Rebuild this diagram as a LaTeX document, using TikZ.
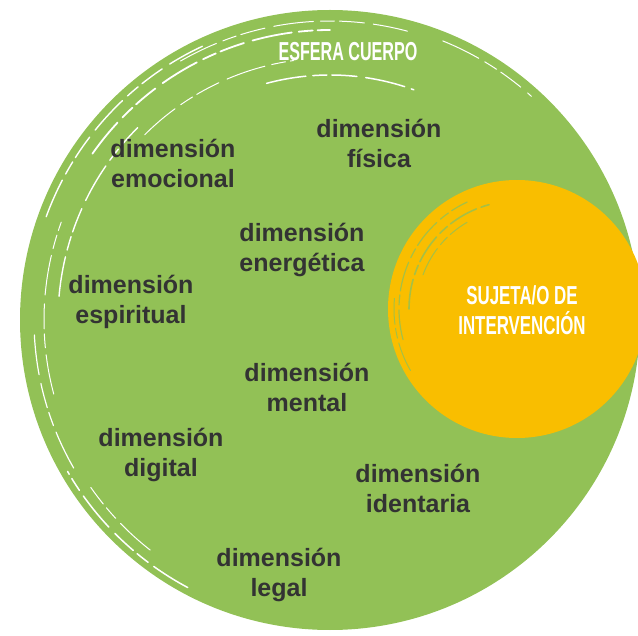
\documentclass[tikz,border=0pt]{standalone}
\usepackage{fontspec}
\setmainfont{Liberation Sans}
\definecolor{esfera}{RGB}{146,193,86}
\definecolor{sujeto}{RGB}{249,190,0}
\definecolor{texto}{RGB}{51,51,51}

\tikzset{
  dim/.style={text=texto, font=\fontsize{25}{30}\selectfont\bfseries, align=center},
  titulo/.style={text=white, font=\fontsize{26}{30}\selectfont\bfseries, align=center},
  brocha/.style={white, line cap=round, dash pattern=on 40pt off 7pt on 14pt off 5pt on 25pt off 9pt},
  brochaverde/.style={esfera, line cap=round, opacity=0.8, dash pattern=on 30pt off 5pt on 10pt off 4pt},
}

\begin{document}
\begin{tikzpicture}[x=1pt,y=-1pt]
        \clip (0,0) rectangle (638,636);
        \coordinate (centro) at (330,320);
        \coordinate (medio) at (517,309);

        % esfera cuerpo
        \fill[esfera] (centro) circle (310);
        \draw[brocha, line width=1.4pt] ([shift={(200:302)}]centro) arc (200:245:302);
        \draw[brocha, line width=1.8pt] ([shift={(215:290)}]centro) arc (215:270:290);
        \draw[brocha, line width=1pt] ([shift={(240:299)}]centro) arc (240:285:299);
        \draw[brocha, line width=1.5pt] ([shift={(255:245)}]centro) arc (255:290:245);
        \draw[brocha, line width=1pt] ([shift={(225:262)}]centro) arc (225:262:262);
        \draw[brocha, line width=1.4pt] ([shift={(185:272)}]centro) arc (185:225:272);
        \draw[brocha, line width=1pt] ([shift={(165:286)}]centro) arc (165:200:286);
        \draw[brocha, line width=1.2pt] ([shift={(150:296)}]centro) arc (150:178:296);
        \draw[brocha, line width=1.5pt] ([shift={(118:303)}]centro) arc (118:150:303);
        \draw[brocha, line width=1pt] ([shift={(128:292)}]centro) arc (128:145:292);
        \draw[brocha, line width=1pt] ([shift={(292:301)}]centro) arc (292:312:301);

        % sujeta/o
        \fill[sujeto] (medio) circle (129);
        \draw[brochaverde, line width=1.2pt] ([shift={(165:118)}]medio) arc (165:245:118);
        \draw[brochaverde, line width=1.6pt] ([shift={(180:108)}]medio) arc (180:255:108);
        \draw[brochaverde, line width=1pt] ([shift={(200:100)}]medio) arc (200:240:100);
        \draw[brochaverde, line width=1pt] ([shift={(150:123)}]medio) arc (150:185:123);

        \node (cuerpo) at (348,52) [titulo] {\scalebox{0.62}[1]{ESFERA CUERPO}};
        \node (sujeta) at (522,310) [titulo] {\scalebox{0.65}[1]{SUJETA/O DE}\\\scalebox{0.65}[1]{INTERVENCIÓN}};

        \node (emocional) at (173,163) [dim] {dimensión\\emocional};
        \node (fisica) at (379,143) [dim] {dimensión\\física};
        \node (energetica) at (302,250) [dim] {dimensión\\energética};
        \node (espiritual) at (131,302) [dim] {dimensión\\espiritual};
        \node (mental) at (307,387) [dim] {dimensión\\mental};
        \node (digital) at (161,455) [dim] {dimensión\\digital};
        \node (identaria) at (418,488) [dim] {dimensión\\identaria};
        \node (legal) at (279,575) [dim] {dimensión\\legal};
    \end{tikzpicture}
\end{document}
